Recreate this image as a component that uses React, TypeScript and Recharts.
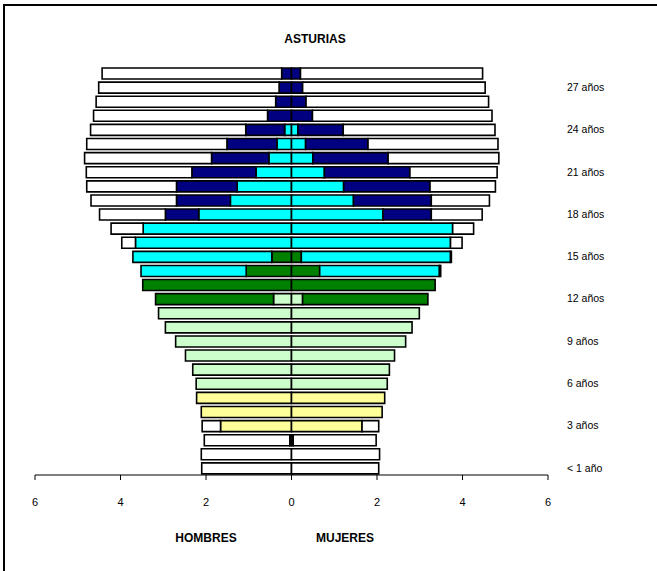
import React from "react";
import { BarChart, Bar, XAxis, YAxis } from "recharts";

// ages 0..28, values in thousands of people
const ages = [
  0, 1, 2, 3, 4, 5, 6, 7, 8, 9, 10, 11, 12, 13, 14, 15, 16, 17, 18, 19, 20, 21,
  22, 23, 24, 25, 26, 27, 28,
];

const hombresTotal = [
  2.1, 2.11, 2.04, 2.09, 2.11, 2.22, 2.23, 2.31, 2.48, 2.71, 2.95, 3.11, 3.18,
  3.48, 3.52, 3.71, 3.97, 4.22, 4.49, 4.69, 4.79, 4.8, 4.84, 4.79, 4.7, 4.63,
  4.57, 4.51, 4.43,
];
const mujeresTotal = [
  2.04, 2.06, 1.98, 2.04, 2.12, 2.18, 2.24, 2.29, 2.41, 2.67, 2.82, 2.99, 3.19,
  3.36, 3.49, 3.74, 3.99, 4.26, 4.46, 4.63, 4.77, 4.81, 4.85, 4.83, 4.76, 4.69,
  4.61, 4.53, 4.47,
];

const hombresInfantil = [
  0, 0, 0.04, 1.66, 2.11, 2.22, 0, 0, 0, 0, 0, 0, 0, 0, 0, 0, 0, 0, 0, 0, 0, 0,
  0, 0, 0, 0, 0, 0, 0,
];
const mujeresInfantil = [
  0, 0, 0.04, 1.65, 2.12, 2.18, 0, 0, 0, 0, 0, 0, 0, 0, 0, 0, 0, 0, 0, 0, 0, 0,
  0, 0, 0, 0, 0, 0, 0,
];

const hombresPrimaria = [
  0, 0, 0, 0, 0, 0, 2.23, 2.31, 2.48, 2.71, 2.95, 3.11, 0.42, 0, 0, 0, 0, 0, 0,
  0, 0, 0, 0, 0, 0, 0, 0, 0, 0,
];
const mujeresPrimaria = [
  0, 0, 0, 0, 0, 0, 2.24, 2.29, 2.41, 2.67, 2.82, 2.99, 0.26, 0, 0, 0, 0, 0, 0,
  0, 0, 0, 0, 0, 0, 0, 0, 0, 0,
];

const hombresObligatoria = [
  0, 0, 0, 0, 0, 0, 0, 0, 0, 0, 0, 0, 2.76, 3.48, 1.06, 0.46, 0, 0, 0, 0, 0, 0,
  0, 0, 0, 0, 0, 0, 0,
];
const mujeresObligatoria = [
  0, 0, 0, 0, 0, 0, 0, 0, 0, 0, 0, 0, 2.93, 3.36, 0.66, 0.23, 0, 0, 0, 0, 0, 0,
  0, 0, 0, 0, 0, 0, 0,
];

const hombresSecundaria = [
  0, 0, 0, 0, 0, 0, 0, 0, 0, 0, 0, 0, 0, 0, 2.46, 3.25, 3.65, 3.47, 2.17, 1.43,
  1.27, 0.83, 0.53, 0.34, 0.16, 0, 0, 0, 0,
];
const mujeresSecundaria = [
  0, 0, 0, 0, 0, 0, 0, 0, 0, 0, 0, 0, 0, 0, 2.8, 3.49, 3.72, 3.77, 2.14, 1.45,
  1.22, 0.77, 0.5, 0.33, 0.15, 0, 0, 0, 0,
];

const hombresUniversidad = [
  0, 0, 0, 0, 0, 0, 0, 0, 0, 0, 0, 0, 0, 0, 0, 0, 0, 0, 0.78, 1.26, 1.42, 1.5,
  1.34, 1.17, 0.91, 0.56, 0.37, 0.29, 0.23,
];
const mujeresUniversidad = [
  0, 0, 0, 0, 0, 0, 0, 0, 0, 0, 0, 0, 0, 0, 0, 0, 0, 0, 1.13, 1.82, 2.02, 2.0,
  1.76, 1.46, 1.06, 0.49, 0.34, 0.26, 0.21,
];

const xTicks = [-6, -4, -2, 0, 2, 4, 6];

const levels = [
  { key: "inf", color: "#FFFF99" },
  { key: "pri", color: "#CCFFCC" },
  { key: "obl", color: "#008000" },
  { key: "sec", color: "#00FFFF" },
  { key: "uni", color: "#000080" },
  { key: "resto", color: "#FFFFFF" },
];

const data = ages.map((age, i) => {
  const h = [
    hombresInfantil[i],
    hombresPrimaria[i],
    hombresObligatoria[i],
    hombresSecundaria[i],
    hombresUniversidad[i],
  ];
  const m = [
    mujeresInfantil[i],
    mujeresPrimaria[i],
    mujeresObligatoria[i],
    mujeresSecundaria[i],
    mujeresUniversidad[i],
  ];
  const hRest = Math.max(0, hombresTotal[i] - h.reduce((a, b) => a + b, 0));
  const mRest = Math.max(0, mujeresTotal[i] - m.reduce((a, b) => a + b, 0));
  const row: any = { age };
  levels.forEach((lv, j) => {
    const hv = j < 5 ? h[j] : hRest;
    const mv = j < 5 ? m[j] : mRest;
    row["h_" + lv.key] = -hv;
    row["m_" + lv.key] = mv;
  });
  return row;
});

const font = "'Liberation Sans', Arial, sans-serif";

const ageLabel = (v: number) => {
  if (v === 0) return "< 1 año";
  if (v % 3 === 0) return `${v} años`;
  return "";
};

const Label = ({ x, y, text, bold }: any) => (
  <div
    style={{
      position: "absolute",
      left: x,
      top: y,
      transform: "translate(-50%, -50%)",
      fontFamily: font,
      fontSize: 12,
      fontWeight: bold ? "bold" : "normal",
      color: "#000",
      whiteSpace: "nowrap",
    }}
  >
    {text}
  </div>
);

export default function App() {
  return (
    <div
      style={{
        position: "absolute",
        left: 0,
        top: 0,
        width: 657,
        height: 571,
        background: "#fff",
        overflow: "hidden",
      }}
    >
      <div
        style={{
          position: "absolute",
          left: 3,
          top: 4,
          width: 700,
          height: 600,
          borderTop: "2px solid #000",
          borderLeft: "2px solid #000",
        }}
      />
      <BarChart
        width={657}
        height={571}
        data={data}
        layout="vertical"
        stackOffset="sign"
        barSize={11}
        margin={{ top: 66, right: 0, bottom: 56, left: 35 }}
        style={{ position: "absolute", left: 0, top: 0, fontFamily: font }}
      >
        <XAxis
          type="number"
          domain={[-6, 6]}
          ticks={xTicks}
          allowDataOverflow
          tickFormatter={(v: number) => String(Math.abs(v))}
          axisLine={{ stroke: "#000", strokeWidth: 1 }}
          tickLine={{ stroke: "#000" }}
          tickSize={5}
          tickMargin={18}
          height={40}
          tick={{ fill: "#000", fontSize: 11, fontFamily: font }}
        />
        <YAxis
          type="category"
          dataKey="age"
          orientation="right"
          reversed
          width={109}
          interval={0}
          axisLine={false}
          tickLine={false}
          tickSize={6}
          tickMargin={13}
          tickFormatter={ageLabel}
          tick={{ fill: "#000", fontSize: 10.5, fontFamily: font }}
        />
        {levels.map((lv) => (
          <Bar
            key={"h_" + lv.key}
            dataKey={"h_" + lv.key}
            stackId="p"
            fill={lv.color}
            stroke="#000"
            strokeWidth={1.6}
            isAnimationActive={false}
          />
        ))}
        {levels.map((lv) => (
          <Bar
            key={"m_" + lv.key}
            dataKey={"m_" + lv.key}
            stackId="p"
            fill={lv.color}
            stroke="#000"
            strokeWidth={1.6}
            isAnimationActive={false}
          />
        ))}
      </BarChart>
      <Label x={315} y={39} text="ASTURIAS" bold />
      <Label x={206} y={538} text="HOMBRES" bold />
      <Label x={345} y={538} text="MUJERES" bold />
    </div>
  );
}
